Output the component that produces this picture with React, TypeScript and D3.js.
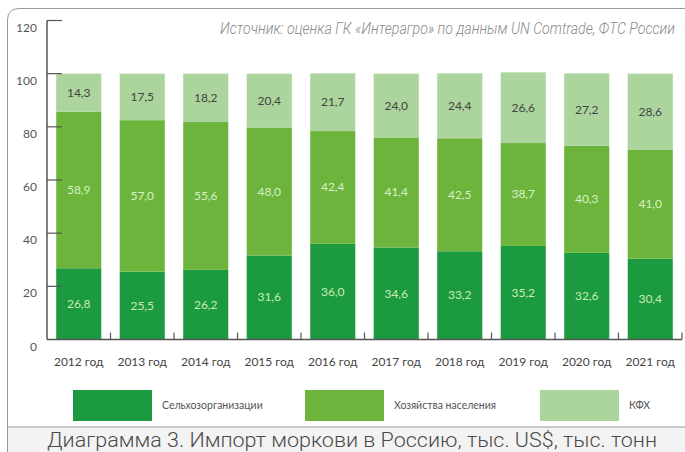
import React from "react";
import * as d3 from "d3";

const years = ["2012 год", "2013 год", "2014 год", "2015 год", "2016 год", "2017 год", "2018 год", "2019 год", "2020 год", "2021 год"];
const selkhoz = [26.8, 25.5, 26.2, 31.6, 36.0, 34.6, 33.2, 35.2, 32.6, 30.4];
const khozyaistva = [58.9, 57.0, 55.6, 48.0, 42.4, 41.4, 42.5, 38.7, 40.3, 41.0];
const kfh = [14.3, 17.5, 18.2, 20.4, 21.7, 24.0, 24.4, 26.6, 27.2, 28.6];
const seriesNames = ["Сельхозорганизации", "Хозяйства населения", "КФХ"];
const yTicks = [0, 20, 40, 60, 80, 100, 120];
const sourceText = "Источник: оценка ГК «Интерагро» по данным UN Comtrade, ФТС России";
const captionText = "Диаграмма 3. Импорт моркови в Россию, тыс. US$, тыс. тонн";

const colors = ["#1c9a3f", "#6cb43c", "#abd59c"];
const labelColors = ["#c9ecb6", "#d9f0c6", "#444444"];

const W = 685;
const H = 452;
const FONT = "Lato, 'Open Sans', sans-serif";

export default function App() {
  const x = d3.scaleBand<string>().domain(years).range([47, 682]).paddingInner(0).paddingOuter(0);
  const y = d3.scaleLinear().domain([0, 120]).range([339.5, 20.5]);
  const barW = x.bandwidth() * 0.71;

  const rows = years.map((yr, i) => ({ year: yr, s0: selkhoz[i], s1: khozyaistva[i], s2: kfh[i] }));
  const stack = d3.stack<any>().keys(["s0", "s1", "s2"])(rows);

  const legendX = [73, 305, 540];

  return (
    <svg width={W} height={H} style={{ position: "absolute", left: 0, top: 0, background: "#ffffff" }}>
      {/* frame */}
      <path d={`M7.5,${H} L7.5,20 Q7.5,8.5 19,8.5 L${W},8.5`} fill="none" stroke="#9a9a9a" strokeWidth={1} />
      <rect x={8} y={427} width={W - 8} height={H - 427} fill="#f3f3f3" />
      <line x1={7.5} x2={W} y1={427} y2={427} stroke="#9a9a9a" strokeWidth={1} />
      <text x={47} y={447} fontFamily="Roboto, sans-serif" fontWeight={300} fontSize={19.5} fill="#4a4a4a" textLength={610} lengthAdjust="spacingAndGlyphs">
        {captionText}
      </text>

      {/* source */}
      <text x={675} y={34} textAnchor="end" fontFamily="Roboto, sans-serif" fontStyle="italic" fontWeight={300} fontSize={17} fill="#8a8a8a" textLength={455} lengthAdjust="spacingAndGlyphs">
        {sourceText}
      </text>

      {/* bars */}
      {stack.map((layer, si) =>
        layer.map((d, i) => {
          const bx = (x(years[i]) as number) + (x.bandwidth() - barW) / 2;
          const y0 = y(d[0]);
          const y1 = y(d[1]);
          const val = [selkhoz, khozyaistva, kfh][si][i];
          return (
            <g key={`${si}-${i}`}>
              <rect x={bx} y={y1} width={barW} height={y0 - y1} fill={colors[si]} />
              <text x={bx + barW / 2} y={(y0 + y1) / 2 + 4} textAnchor="middle" fontFamily={FONT} fontSize={12} fill={labelColors[si]}>
                {val.toFixed(1).replace(".", ",")}
              </text>
            </g>
          );
        })
      )}

      {/* y axis */}
      <line x1={47} x2={47} y1={y(120)} y2={y(0)} stroke="#555" strokeWidth={1.5} />
      {yTicks.map((t) => (
        <g key={t}>
          {t > 0 && <line x1={47} x2={62} y1={y(t)} y2={y(t)} stroke="#555" strokeWidth={1.2} />}
          <text x={37} y={y(t) + 11} textAnchor="end" fontFamily={FONT} fontSize={12} fill="#555">
            {t}
          </text>
        </g>
      ))}

      {/* x axis */}
      <line x1={47} x2={682} y1={y(0)} y2={y(0)} stroke="#555" strokeWidth={1.5} />
      {years.map((yr, i) => (
        <g key={yr}>
          <line x1={(x(yr) as number) + x.bandwidth()} x2={(x(yr) as number) + x.bandwidth()} y1={y(0)} y2={y(0) - 7} stroke="#555" strokeWidth={1.2} />
          <text x={(x(yr) as number) + x.bandwidth() / 2} y={366} textAnchor="middle" fontFamily={FONT} fontSize={12} fill="#444">
            {yr}
          </text>
        </g>
      ))}

      {/* legend */}
      {seriesNames.map((n, i) => (
        <g key={n}>
          <rect x={legendX[i]} y={390} width={79} height={31} fill={colors[i]} />
          <text x={legendX[i] + 89} y={409} fontFamily={FONT} fontSize={10.5} fill="#555">
            {n}
          </text>
        </g>
      ))}
    </svg>
  );
}
